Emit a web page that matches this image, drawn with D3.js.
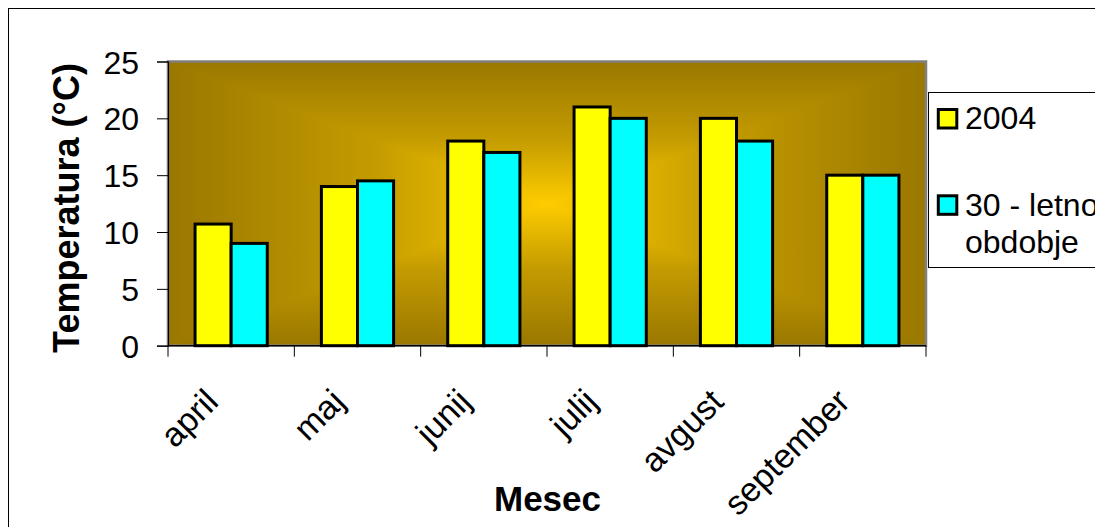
<!DOCTYPE html>
<html>
<head>
<meta charset="utf-8">
<script src="https://cdn.jsdelivr.net/npm/d3@7"></script>
<style>
  html, body { margin: 0; padding: 0; background: #ffffff; }
  svg { display: block; }
  text { font-family: "Liberation Sans", Arial, sans-serif; fill: #000; }
</style>
</head>
<body>
<svg id="chart" width="1095" height="527"></svg>
<script>
// Monthly mean temperatures
const months = ["april", "maj", "junij", "julij", "avgust", "september"];
const seriesNames = ["2004", "30 - letno obdobje"];
const values2004 = [10.7, 14, 18, 21, 20, 15];
const valuesPeriod = [9, 14.5, 17, 20, 18, 15];
const yTicks = [0, 5, 10, 15, 20, 25];
const seriesColors = ["#FFFF00", "#00FFFF"];

const rows = months.map((m, i) => ({ month: m, vals: [values2004[i], valuesPeriod[i]] }));

const svg = d3.select("#chart");
const W = 1095, H = 527;
const plot = { left: 168, right: 926, top: 61.5, bottom: 345.7 };

// outer chart frame
svg.append("rect")
  .attr("x", 8.5).attr("y", 8.5)
  .attr("width", W + 20).attr("height", H + 20)
  .attr("fill", "#fff").attr("stroke", "#000").attr("stroke-width", 1);

const x0 = d3.scaleBand().domain(months).range([plot.left, plot.right]).padding(0);
const bw = x0.bandwidth();
const gap = bw * 1.5 / 3.5;
const x1 = d3.scaleBand().domain(seriesNames).range([gap / 2, bw - gap / 2]).padding(0);
const y = d3.scaleLinear().domain([0, 25]).range([plot.bottom, plot.top]);

// rectangular "from centre" gradient: a full-width horizontal ramp,
// overlaid by top/bottom triangles carrying the vertical ramp
const defs = svg.append("defs");
const L = plot.left, R = plot.right, T = plot.top, B = plot.bottom;
const cx = (L + R) / 2, cy = (T + B) / 2;
const ramp = [[0, "#9A7700"], [0.55, "#C49C00"], [1, "#FFCC00"]];
function symGrad(id, a1x, a1y, a2x, a2y) {
  const g = defs.append("linearGradient").attr("id", id)
    .attr("gradientUnits", "userSpaceOnUse")
    .attr("x1", a1x).attr("y1", a1y).attr("x2", a2x).attr("y2", a2y);
  ramp.forEach(([o, c]) => g.append("stop").attr("offset", o / 2).attr("stop-color", c));
  ramp.slice().reverse().forEach(([o, c]) => g.append("stop").attr("offset", 1 - o / 2).attr("stop-color", c));
}
symGrad("gH", L, cy, R, cy);
symGrad("gV", cx, T, cx, B);

const bg = svg.append("g");
bg.append("rect").attr("x", L).attr("y", T).attr("width", R - L).attr("height", B - T)
  .attr("fill", "url(#gH)");
const tri = [
  [[L, T], [R, T], [cx, cy]],
  [[L, B], [R, B], [cx, cy]]
];
bg.selectAll("path").data(tri).join("path")
  .attr("d", d => "M" + d.map(p => p.join(",")).join("L") + "Z")
  .attr("fill", "url(#gV)");

// plot area border
svg.append("rect")
  .attr("x", L).attr("y", T).attr("width", R - L).attr("height", B - T)
  .attr("fill", "none").attr("stroke", "#808080").attr("stroke-width", 2.5);

// bars
const groups = svg.append("g").selectAll("g").data(rows).join("g")
  .attr("transform", d => `translate(${x0(d.month)},0)`);
groups.selectAll("rect").data(d => d.vals.map((v, i) => ({ v, i }))).join("rect")
  .attr("x", d => x1(seriesNames[d.i]))
  .attr("y", d => y(d.v))
  .attr("width", x1.bandwidth())
  .attr("height", d => y(0) - y(d.v))
  .attr("fill", d => seriesColors[d.i])
  .attr("stroke", "#000").attr("stroke-width", 3);

// y axis
const yAxis = svg.append("g").attr("transform", `translate(${L},0)`)
  .call(d3.axisLeft(y).tickValues(yTicks).tickSize(11).tickPadding(18).tickFormat(d3.format("d")));
yAxis.select(".domain").attr("stroke", "#000").attr("stroke-width", 1.2);
yAxis.selectAll(".tick line").attr("stroke", "#000");
yAxis.selectAll(".tick text").attr("font-size", 32).attr("dy", "0.36em")
  .style("font-family", "'Liberation Sans', Arial, sans-serif");

// x axis: ticks at category boundaries
const xAxisG = svg.append("g").attr("transform", `translate(0,${B})`);
xAxisG.append("line").attr("x1", L).attr("x2", R).attr("y1", 0).attr("y2", 0)
  .attr("stroke", "#000").attr("stroke-width", 1.2);
const bounds = months.map(m => x0(m)).concat([R]);
xAxisG.selectAll("line.tk").data(bounds).join("line").attr("class", "tk")
  .attr("x1", d => d).attr("x2", d => d).attr("y1", 0).attr("y2", 11)
  .attr("stroke", "#000").attr("stroke-width", 1);
xAxisG.selectAll("text").data(months).join("text")
  .attr("transform", d => `translate(${x0(d) + bw / 2 - 11},${58}) rotate(-45)`)
  .attr("text-anchor", "end")
  .attr("font-size", 34)
  .text(d => d);

// axis titles
svg.append("text")
  .attr("transform", `translate(79,208) rotate(-90)`)
  .attr("text-anchor", "middle")
  .attr("font-size", 36).attr("font-weight", "bold")
  .text("Temperatura (°C)");
svg.append("text")
  .attr("x", 547.5).attr("y", 511)
  .attr("text-anchor", "middle")
  .attr("font-size", 35).attr("font-weight", "bold")
  .text("Mesec");

// legend
const lg = svg.append("g");
lg.append("rect").attr("x", 928.5).attr("y", 92.5).attr("width", 200).attr("height", 175)
  .attr("fill", "#fff").attr("stroke", "#000").attr("stroke-width", 1);
const legendItems = [
  { lines: ["2004"], sy: 109.5, base: 129 },
  { lines: ["30 - letno", "obdobje"], sy: 195.8, base: 216 }
];
legendItems.forEach((it, i) => {
  lg.append("rect").attr("x", 938.3).attr("y", it.sy).attr("width", 18.5).attr("height", 18.5)
    .attr("fill", seriesColors[i]).attr("stroke", "#000").attr("stroke-width", 3);
  it.lines.forEach((t, j) => {
    lg.append("text").attr("x", 965).attr("y", it.base + j * 37)
      .attr("font-size", 32).text(t);
  });
});
</script>
</body>
</html>
